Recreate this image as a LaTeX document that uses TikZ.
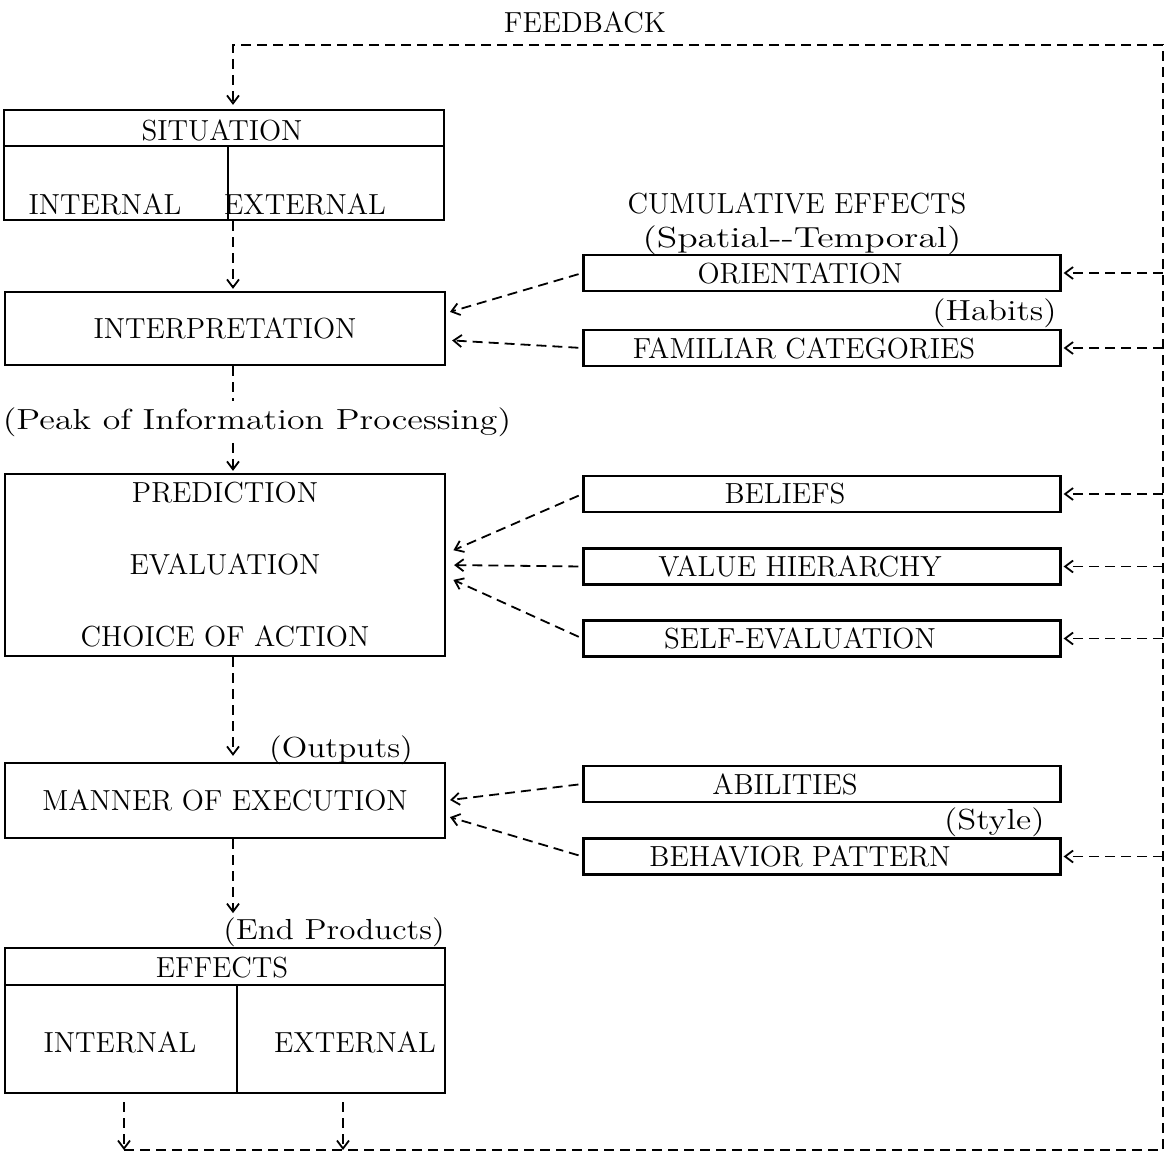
\documentclass[tikz,border=0pt]{standalone}
\usetikzlibrary{arrows.meta, calc}

\begin{document}
\begin{tikzpicture}[x=0.5pt, y=-0.5pt,
    every node/.style={font=\fontsize{14.5}{17}\selectfont, inner sep=0pt},
    note/.style={xscale=1.2},
    box/.style={draw, line width=1.1pt},
    mainbox/.style={box, minimum width=220pt},
    sidebox/.style={box, minimum width=238.5pt, minimum height=18pt,
                    execute at end node={\hspace{#1}}},
    sidebox/.default=22pt,
    flow/.style={line width=0.9pt, dash pattern=on 5pt off 3pt,
                 -{Straight Barb[length=4pt, width=6pt]}}]
  \useasboundingbox (0,0) rectangle (1171,1155);

  % feedback loop corners
  \coordinate (effIn) at (124,1150);
  \coordinate (effEx) at (343,1150);
  \coordinate (fbBR) at (1163,1150);
  \coordinate (fbTR) at (1163,45);
  \coordinate (fbTL) at (233,45);
  \node (fb) at (585,22) {FEEDBACK};

  % situation
  \node[mainbox, minimum height=55pt] (sit) at (224,165) {};
  \node (sitT) at (222,130) {SITUATION};
  \draw[line width=1.1pt] (sit.west |- 0,146) -- (sit.east |- 0,146);
  \draw[line width=1.1pt] (228,146) -- (sit.south -| 228,0);
  \node (sitIn) at (105,204) {INTERNAL};
  \node (sitEx) at (305,204) {EXTERNAL};

  % interpretation and prediction
  \node[mainbox, minimum height=36.5pt] (interp) at (225,328.5) {INTERPRETATION};
  \node[note, xscale=1.03, fill=white] (peak) at (257,422) {(Peak of Information Processing)};
  \node[mainbox, minimum height=91pt, align=center,
        font=\fontsize{14.5}{36}\selectfont] (pred) at (225,565)
      {PREDICTION\\EVALUATION\\CHOICE OF ACTION};

  % execution and effects
  \node[note, xscale=0.96] (outp) at (341,750) {(Outputs)};
  \node[mainbox, minimum height=37.5pt] (manner) at (225,800.5) {MANNER OF EXECUTION};
  \node[note, xscale=0.95] (endp) at (334,932) {(End Products)};
  \node[mainbox, minimum height=72.5pt] (eff) at (225,1020.5) {};
  \node (effT) at (222,968) {EFFECTS};
  \draw[line width=1.1pt] (eff.west |- 0,985) -- (eff.east |- 0,985);
  \draw[line width=1.1pt] (237,985) -- (eff.south -| 237,0);
  \node (effInT) at (120,1042) {INTERNAL};
  \node (effExT) at (355,1042) {EXTERNAL};

  % cumulative effects
  \node (cum) at (797,203) {CUMULATIVE EFFECTS};
  \node[note, xscale=1.08] (spat) at (802,240) {(Spatial{-}{-}Temporal)};
  \node[sidebox] (orient) at (822,273) {ORIENTATION};
  \node[note, anchor=east] (habit) at (1057,313) {(Habits)};
  \node[sidebox=18pt] (famil) at (822,348) {FAMILIAR CATEGORIES};
  \node[sidebox=37pt] (belief) at (822,494) {BELIEFS};
  \node[sidebox] (value) at (822,566.5) {VALUE HIERARCHY};
  \node[sidebox] (self) at (822,638.5) {SELF-EVALUATION};
  \node[sidebox=37pt] (abil) at (822,784) {ABILITIES};
  \node[note, anchor=east] (style) at (1045,822) {(Style)};
  \node[sidebox] (behav) at (822,856.5) {BEHAVIOR PATTERN};

  % main flow
  \draw[flow, shorten >=1pt] (sit.south -| fbTL) -- (interp.north -| fbTL);
  \draw[flow, -, shorten >=3pt] (interp.south -| fbTL) -- (peak.north -| fbTL);
  \draw[flow, shorten <=3pt, shorten >=1pt] (peak.south -| fbTL) -- (pred.north -| fbTL);
  \draw[flow, shorten >=3pt] (pred.south -| fbTL) -- (manner.north -| fbTL);
  \draw[flow, shorten >=2pt] (manner.south -| fbTL) -- (endp.north -| fbTL);
  \draw[flow, shorten <=4pt] (eff.south -| effIn) -- (effIn);
  \draw[flow, shorten <=4pt] (eff.south -| effEx) -- (effEx);

  % inputs from cumulative effects
  \draw[flow, shorten <=2pt, shorten >=2pt] (orient.west) -- (interp.4);
  \draw[flow, shorten <=2pt, shorten >=3pt] (famil.west) -- (interp.-3);
  \draw[flow, shorten <=2pt, shorten >=4pt] (belief.west) -- (pred.3);
  \draw[flow, shorten <=2pt, shorten >=4pt] (value.west) -- (pred.0);
  \draw[flow, shorten <=2pt, shorten >=4pt] (self.west) -- (pred.-3);
  \draw[flow, shorten <=2pt, shorten >=2pt] (abil.west) -- (manner.0);
  \draw[flow, shorten <=2pt, shorten >=2pt] (behav.west) -- (manner.-4);

  % feedback
  \draw[flow, shorten >=2pt] (effIn) -- (fbBR) -- (fbTR) -- (fbTL) -- (sit.north -| fbTL);
  \draw[flow, shorten >=1pt] (orient.east -| fbTR) -- (orient.east);
  \draw[flow, shorten >=1pt] (famil.east -| fbTR) -- (famil.east);
  \draw[flow, shorten >=1pt] (belief.east -| fbTR) -- (belief.east);
  \draw[flow, shorten >=1pt] (value.east -| fbTR) -- (value.east);
  \draw[flow, shorten >=1pt] (self.east -| fbTR) -- (self.east);
  \draw[flow, shorten >=1pt] (behav.east -| fbTR) -- (behav.east);
\end{tikzpicture}
\end{document}
